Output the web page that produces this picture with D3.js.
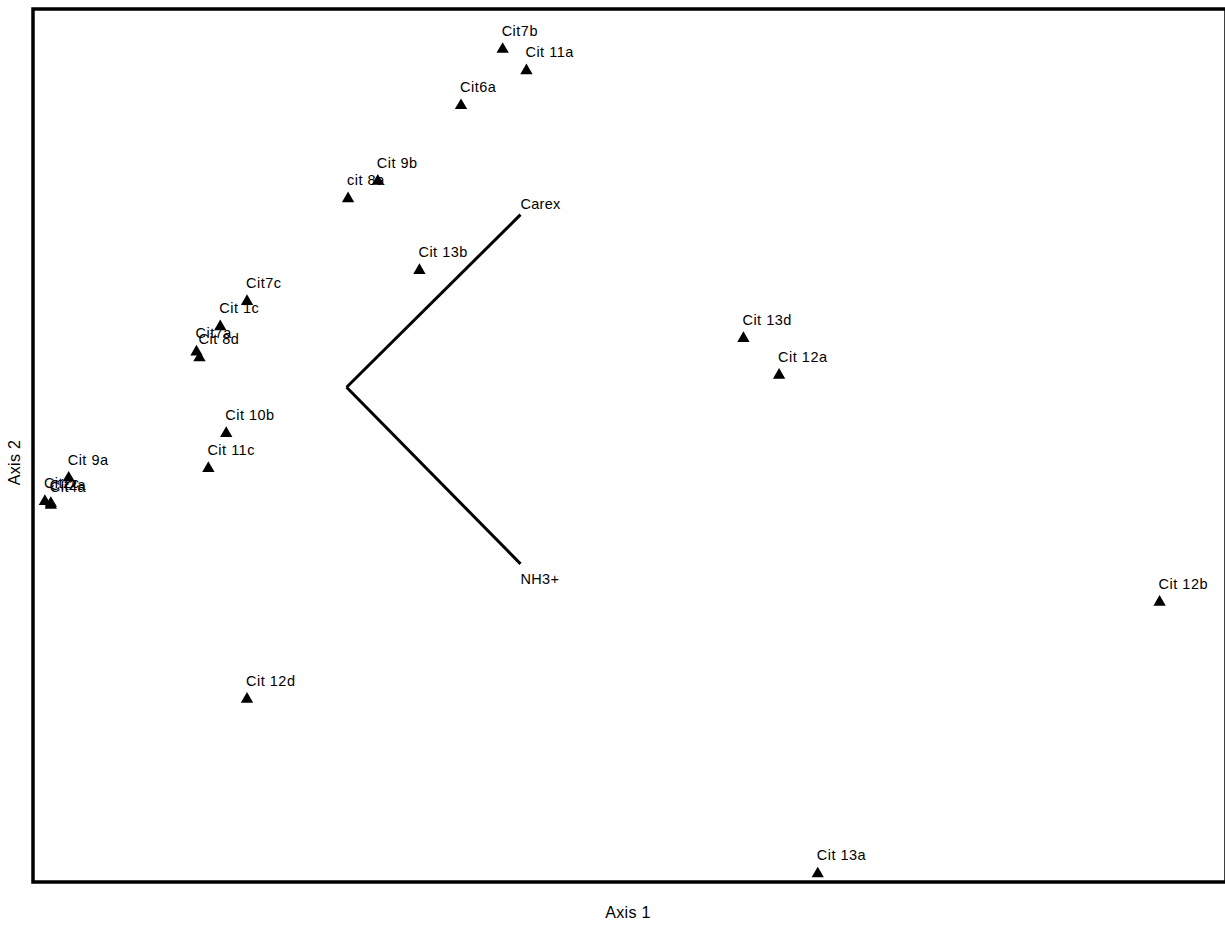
<!DOCTYPE html>
<html>
<head>
<meta charset="utf-8">
<script src="https://cdn.jsdelivr.net/npm/d3@7"></script>
<style>
  body { margin: 0; background: #fff; overflow: hidden; }
  text { font-family: Arial, "Liberation Sans", sans-serif; }
</style>
</head>
<body>
<div id="chart"></div>
<script>
// sample scores (axis 1, axis 2)
const sites = ["Cit7b", "Cit 11a", "Cit6a", "Cit 9b", "cit 8a", "Cit 13b", "Cit7c", "Cit 1c",
  "Cit7a", "Cit 8d", "Cit 10b", "Cit 11c", "Cit 9a", "Cit2c", "Cit4a", "Cit2a",
  "Cit 12d", "Cit 13d", "Cit 12a", "Cit 12b", "Cit 13a"];
const axis1 = [0.58, 0.66, 0.44, 0.16, 0.06, 0.30, -0.28, -0.37,
  -0.45, -0.44, -0.35, -0.41, -0.88, -0.96, -0.94, -0.94,
  -0.28, 1.39, 1.51, 2.79, 1.64];
const axis2 = [1.30, 1.19, 1.01, 0.62, 0.53, 0.16, 0.00, -0.13,
  -0.26, -0.29, -0.68, -0.86, -0.91, -1.03, -1.05, -1.04,
  -2.05, -0.19, -0.38, -1.55, -2.95];

// environmental vectors
const vecNames = ["Carex", "NH3+"];
const vecOrigin = [0.055, -0.45];
const vecX = [0.64, 0.64];
const vecY = [0.44, -1.36];

const W = 1225, H = 936;
const mgL = 33, mgR = 1226, mgT = 9, mgB = 882;

const svg = d3.select('#chart').append('svg')
  .attr('width', W)
  .attr('height', H);

const x = d3.scaleLinear().domain([-1, 3]).range([mgL, 1222]);
const y = d3.scaleLinear().domain([-3, 1.5]).range([mgB, mgT]);

// frame (right edge runs off the picture like the original)
svg.append('rect')
  .attr('x', mgL)
  .attr('y', mgT)
  .attr('width', mgR - mgL)
  .attr('height', mgB - mgT)
  .attr('fill', 'none')
  .attr('stroke', '#000')
  .attr('stroke-width', 3.5);

// biplot arrows
vecNames.forEach((n, i) => {
  svg.append('line')
    .attr('x1', x(vecOrigin[0]))
    .attr('y1', y(vecOrigin[1]))
    .attr('x2', x(vecX[i]))
    .attr('y2', y(vecY[i]))
    .attr('stroke', '#000')
    .attr('stroke-width', 3);
  svg.append('text')
    .attr('x', x(vecX[i]))
    .attr('y', vecY[i] > vecOrigin[1] ? y(vecY[i]) - 6 : y(vecY[i]) + 20)
    .attr('font-size', '14.5px')
    .attr('letter-spacing', '0.3px')
    .text(n);
});

const pts = sites.map((s, i) => ({ name: s, a: axis1[i], b: axis2[i] }));

svg.selectAll('.pt')
  .data(pts)
  .enter().append('path')
  .attr('class', 'pt')
  .attr('d', d3.symbol().type(d3.symbolTriangle).size(66))
  .attr('transform', d => `translate(${x(d.a)},${y(d.b) + 1.5})`)
  .attr('fill', '#000');

svg.selectAll('.lbl')
  .data(pts)
  .enter().append('text')
  .attr('class', 'lbl')
  .attr('x', d => x(d.a) - 1)
  .attr('y', d => y(d.b) - 12)
  .attr('font-size', '14.5px')
  .attr('letter-spacing', '0.5px')
  .text(d => d.name);

// axis titles
svg.append('text')
  .attr('x', 628)
  .attr('y', 918)
  .attr('text-anchor', 'middle')
  .attr('font-size', '16px')
  .attr('letter-spacing', '0.3px')
  .text('Axis 1');

svg.append('text')
  .attr('transform', `translate(20,${(mgT + mgB) / 2 + 17}) rotate(-90)`)
  .attr('text-anchor', 'middle')
  .attr('font-size', '16px')
  .attr('letter-spacing', '0.3px')
  .text('Axis 2');
</script>
</body>
</html>
